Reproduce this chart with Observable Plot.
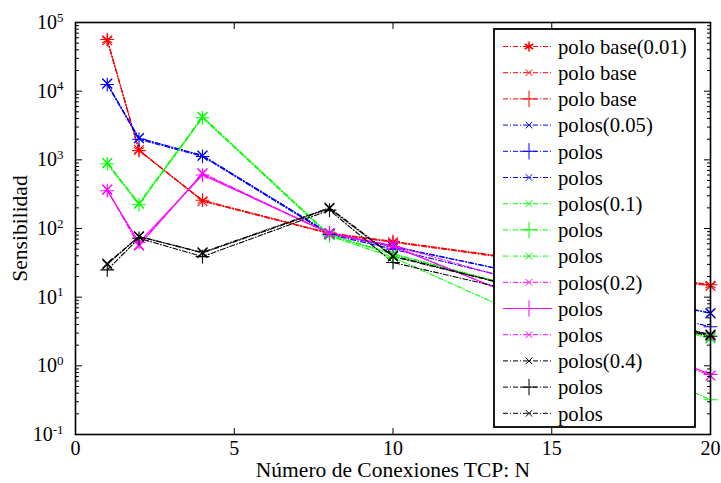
<!DOCTYPE html>
<html><head><meta charset="utf-8">
<script src="https://cdn.jsdelivr.net/npm/d3@7"></script>
<script src="https://cdn.jsdelivr.net/npm/@observablehq/plot@0.6"></script>
<style>
body{margin:0;background:#fff}
svg, svg text{font-family:"Liberation Serif","Times New Roman",Times,"Nimbus Roman","Tinos",serif !important}
</style>
</head><body><div id="chart"></div>
<script>
// ---- data ----
const xValues = [1, 2, 4, 8, 10, 20];
const xTicks = [0, 5, 10, 15, 20];
const yMajor = [0.1, 1, 10, 100, 1000, 10000, 100000];

const seriesNames = ["polo base(0.01)", "polo base", "polo base", "polos(0.05)", "polos", "polos",
  "polos(0.1)", "polos", "polos", "polos(0.2)", "polos", "polos", "polos(0.4)", "polos", "polos"];
const seriesColors = ["#ff0000", "#ff0000", "#ff0000", "#0000ff", "#0000ff", "#0000ff",
  "#00ff00", "#00ff00", "#00ff00", "#ff00ff", "#ff00ff", "#ff00ff", "#000000", "#000000", "#000000"];
const seriesMarkers = ["asterisk", "times", "plus", "times", "plus", "times",
  "times", "plus", "times", "times", "plus", "times", "times", "plus", "times"];
const seriesSolid = [false, false, false, false, false, false,
  false, false, false, false, true, false, false, false, false];

const red0 = [56000, 1370, 256, 85, 64, 15];
const red1 = [55000, 1390, 250, 84, 63, 14.6];
const red2 = [56500, 1360, 258, 86, 65, 15.2];
const blue0 = [12800, 2060, 1150, 84, 54, 5.9];
const blue1 = [12500, 1990, 1120, 82, 50, 3.7];
const blue2 = [12900, 2080, 1160, 85, 55, 5.8];
const green0 = [890, 229, 4180, 80, 42, 2.6];
const green1 = [875, 222, 4100, 78, 38, 0.32];
const green2 = [900, 232, 4250, 81, 43, 2.5];
const magenta0 = [366, 58, 627, 85, 57, 2.7];
const magenta1 = [355, 63, 600, 86, 55, 0.75];
const magenta2 = [370, 56, 640, 84, 56, 0.72];
const black0 = [31, 76, 45, 200, 40, 2.8];
const black1 = [25, 72, 39, 185, 32, 2.7];
const black2 = [30, 77, 44, 195, 39, 2.85];

const allSeries = [red0, red1, red2, blue0, blue1, blue2, green0, green1, green2,
  magenta0, magenta1, magenta2, black0, black1, black2];

// ---- build ----
const FONT = "'Liberation Serif', 'Times New Roman', Times, 'Nimbus Roman', Tinos, serif";
const yMinor = [];
for (let e = -1; e < 5; e++) for (let k = 2; k <= 9; k++) yMinor.push(k * Math.pow(10, e));

const marks = [];
allSeries.forEach((vals, i) => {
  const rows = vals.map((v, j) => ({x: xValues[j], y: v}));
  marks.push(Plot.line(rows, {x: "x", y: "y", stroke: seriesColors[i], strokeWidth: 1.1,
    strokeDasharray: seriesSolid[i] ? null : "5,2,1,2"}));
});
allSeries.forEach((vals, i) => {
  const rows = vals.map((v, j) => ({x: xValues[j], y: v}));
  marks.push(Plot.dot(rows, {x: "x", y: "y", symbol: seriesMarkers[i], stroke: seriesColors[i],
    fill: "none", strokeWidth: 1.1, r: seriesMarkers[i] === "asterisk" ? 5.5 : 4.5}));
});

const tickLabelStyle = {fontSize: 20, fill: "#000"};
const plot = Plot.plot({
  width: 721, height: 483,
  marginLeft: 75, marginRight: 11, marginTop: 22, marginBottom: 49,
  style: {fontFamily: FONT, background: "#fff", color: "#000", overflow: "visible"},
  x: {domain: [0, 20]},
  y: {type: "log", domain: [0.1, 100000]},
  marks: [
    ...marks,
    Plot.axisX({ticks: xTicks, tickSize: 0, tickPadding: 6, ...tickLabelStyle,
      label: "Número de Conexiones TCP: N", labelAnchor: "center", labelArrow: "none", labelOffset: 42}),
    Plot.axisX({ticks: xTicks, tickSize: -6, tickFormat: () => "", label: null}),
    Plot.axisX({anchor: "top", ticks: xTicks, tickSize: -6, tickFormat: () => "", label: null}),
    Plot.axisY({ticks: yMajor, tickSize: 0, tickPadding: 12, ...tickLabelStyle,
      tickFormat: d => "10|" + Math.round(Math.log10(d)),
      label: "Sensibilidad", labelAnchor: "center", labelArrow: "none", labelOffset: 64}),
    Plot.axisY({ticks: yMajor, tickSize: -7, tickFormat: () => "", label: null}),
    Plot.axisY({ticks: yMinor, tickSize: -4, tickFormat: () => "", label: null}),
    Plot.axisY({anchor: "right", ticks: yMajor, tickSize: -7, tickFormat: () => "", label: null}),
    Plot.axisY({anchor: "right", ticks: yMinor, tickSize: -4, tickFormat: () => "", label: null}),
    Plot.frame({stroke: "#000", strokeWidth: 1.6})
  ]
});
document.getElementById("chart").appendChild(plot);

// superscript exponents
const svg = d3.select(plot);
svg.selectAll("text").each(function() {
  const t = this.textContent;
  if (/^10\|-?\d+$/.test(t)) {
    const exp = t.split("|")[1];
    const el = d3.select(this);
    el.text("10");
    el.append("tspan").attr("dy", "-0.55em").attr("font-size", 13).text(exp);
  }
});
svg.selectAll("text").filter(function() { return this.textContent === "Sensibilidad" || this.textContent === "Número de Conexiones TCP: N"; })
  .attr("font-size", 21.5);

// legend
const lg = svg.append("g").attr("text-anchor", "start").attr("font-family", FONT);
const lgX = 494, lgY = 29, lgW = 201, lgH = 398, row0 = 46.5, rowH = 26.2;
lg.append("rect").attr("x", lgX).attr("y", lgY).attr("width", lgW).attr("height", lgH)
  .attr("fill", "#fff").attr("stroke", "#000").attr("stroke-width", 1.8);
const symMap = {asterisk: d3.symbolAsterisk, times: d3.symbolTimes, plus: d3.symbolPlus};
seriesNames.forEach((name, i) => {
  const y = row0 + i * rowH;
  lg.append("line").attr("x1", lgX + 9).attr("x2", lgX + 58).attr("y1", y).attr("y2", y)
    .attr("stroke", seriesColors[i]).attr("stroke-width", 1)
    .attr("stroke-dasharray", seriesSolid[i] ? null : "5,2,1,2");
  const m = seriesMarkers[i];
  const size = m === "asterisk" ? 70 : m === "plus" ? 90 : 30;
  lg.append("path").attr("transform", `translate(${lgX + 35},${y})`)
    .attr("d", d3.symbol(symMap[m], size)()).attr("fill", "none")
    .attr("stroke", seriesColors[i]).attr("stroke-width", m === "asterisk" ? 1.5 : 1);
  lg.append("text").attr("x", lgX + 64).attr("y", y).attr("dy", "0.35em")
    .attr("text-anchor", "start").attr("font-size", 20.7).attr("fill", "#000").text(name);
});
</script>
</body></html>
